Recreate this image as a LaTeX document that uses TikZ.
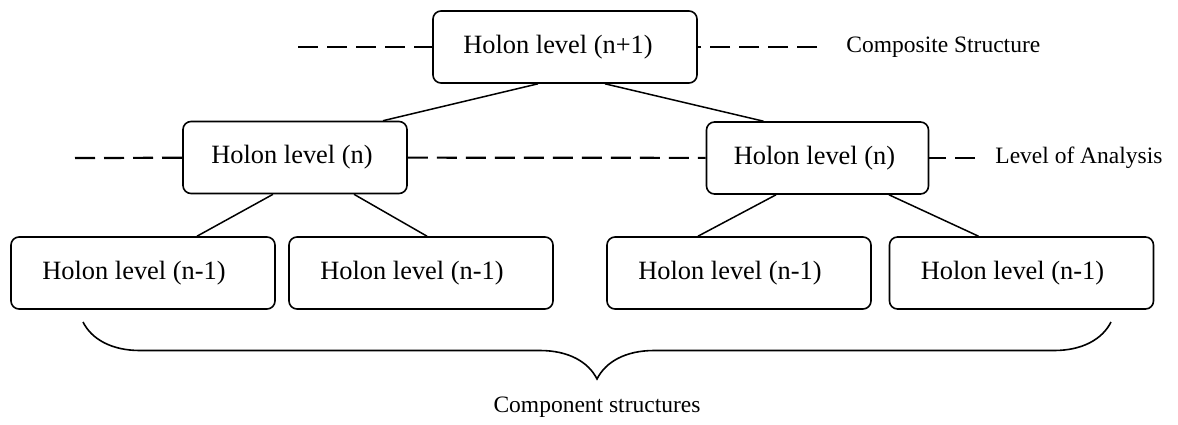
\documentclass[tikz,border=0pt]{standalone}
\usepackage{fontspec}
\setmainfont{Liberation Serif}
\usepackage{tikz}
\usetikzlibrary{positioning,decorations.pathreplacing}

\begin{document}
\begin{tikzpicture}[x=0.5pt,y=-0.5pt,
    holon/.style={thin, shape=rectangle, rounded corners=4pt, draw, line width=0.8pt,
      align=center, inner sep=0pt, minimum height=36pt,
      font=\fontsize{13.2}{15}\selectfont},
    level/.style={dash pattern=on 10pt off 4.5pt, line width=1.1pt},
    tag/.style={font=\fontsize{11.75}{14}\selectfont, inner sep=0pt}
    ]
\useasboundingbox (0,0) rectangle (1178,424);
% holon boxes
\node[holon, minimum width=132pt] (point1) at (565,47) {Holon level (n+1)\hspace{7pt}};
\node[holon, minimum width=112pt] (point2) at (295,157.5) {Holon level (n)\hspace{3pt}};
\node[holon, minimum width=111pt] (point3) at (817.5,158) {Holon level (n)\hspace{3pt}};
\node[holon, minimum width=132pt] (point4) at (143,273) {Holon level (n-1)\hspace{9pt}};
\node[holon, minimum width=132pt] (point5) at (421,273) {Holon level (n-1)\hspace{9pt}};
\node[holon, minimum width=132pt] (point6) at (739,273) {Holon level (n-1)\hspace{9pt}};
\node[holon, minimum width=132pt] (point7) at (1021.5,273) {Holon level (n-1)\hspace{9pt}};
% side labels
\node[tag, anchor=west] (comp) at (846,47) {Composite Structure};
\node[tag, anchor=west] (anal) at (995,158) {Level of Analysis};
\node[tag] (parts) at (597,407) {Component structures};
% free ends of the dashed lines
\coordinate (dash1) at (298,47);
\coordinate (dash2) at (817,47);
\coordinate (dash3) at (75,158);
\coordinate (dash4) at (975,158);
\draw[level] (dash1) -- (point1);
\draw[level] (dash2) -- (point1);
\draw[level] (dash3) -- (point2);
\draw[level] (point2) -- (point3);
\draw[level] (dash4) -- (point3);
% tree
\draw[line width=0.75pt] ([xshift=-13.5pt]point1.south) -- ([xshift=44pt]point2.north);
\draw[line width=0.75pt] ([xshift=20pt]point1.south) -- ([xshift=-27pt]point3.north);
\draw[line width=0.75pt] ([xshift=-11pt]point2.south) -- ([xshift=27pt]point4.north);
\draw[line width=0.75pt] ([xshift=29.5pt]point2.south) -- ([xshift=3pt]point5.north);
\draw[line width=0.75pt] ([xshift=-20.75pt]point3.south) -- ([xshift=-20.5pt]point6.north);
\draw[line width=0.75pt] ([xshift=35.75pt]point3.south) -- ([xshift=-21.5pt]point7.north);
% brace
\coordinate (brace1) at (83,322);
\coordinate (brace2) at (1111,322);
\draw[line width=0.8pt, decorate, decoration={brace, mirror, amplitude=28.5pt}] (brace1) -- (brace2);
\end{tikzpicture}
\end{document}
